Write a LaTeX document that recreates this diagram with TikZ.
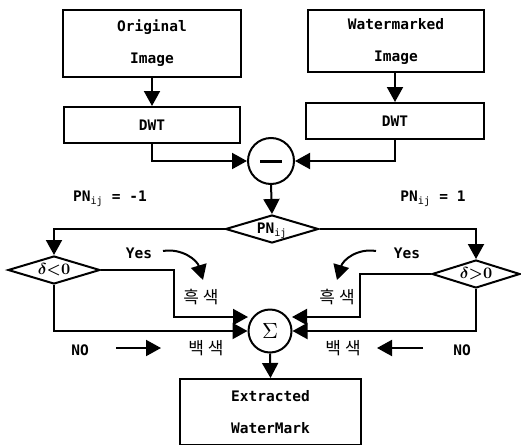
\documentclass[tikz,border=0pt]{standalone}
\usepackage{fontspec}
\setmonofont{DejaVu Sans Mono}
\newfontfamily\kr{Noto Sans CJK KR}
\usetikzlibrary{shapes.geometric,arrows.meta,calc}
\begin{document}
\begin{tikzpicture}[x=1pt,y=-1pt,
  lw/.style={line width=2pt},
  box/.style={draw, lw, inner sep=0pt, align=center, font=\ttfamily\bfseries\fontsize{14.5}{17}\selectfont},
  arr/.style={lw, -{Triangle[length=15pt,width=16pt]}},
  dia/.style={draw, lw, shape=diamond, inner sep=0pt, aspect=3.3},
  circ/.style={draw, lw, circle, inner sep=0pt},
  lab/.style={font=\ttfamily\bfseries\fontsize{14.5}{17}\selectfont, inner sep=0pt},
  krl/.style={font=\kr\fontsize{17}{19}\selectfont, inner sep=0pt}]
\useasboundingbox (0,0) rectangle (521,444);
\fill[white] (0,0) rectangle (521,444);
% boxes
\node[box, minimum width=178pt, minimum height=67pt] (orig) at (152,43.5) {Original\\[15pt]Image};
\node[box, minimum width=176pt, minimum height=62pt] (wm) at (396,41) {Watermarked\\[15pt]Image};
\node[box, minimum width=176pt, minimum height=36pt] (dwt1) at (152,125) {DWT};
\node[box, minimum width=178pt, minimum height=36pt] (dwt2) at (395,121) {DWT};
\node[circ, minimum size=46pt] (minus) at (271,161) {};
\draw[line width=3pt] ($(minus.center)+(-11,0)$) coordinate (m1) -- ($(minus.center)+(11,0)$) coordinate (m2);
\node[dia, minimum width=93pt, minimum height=28pt] (pn) at (272,229) {};
\node[lab] (pnt) at (272,231) {PN$_{\mathtt{ij}}$};
\node[dia, minimum width=92pt, minimum height=28pt] (ldia) at (54,270) {};
\node[inner sep=0pt] (ldt) at (54,270) {\scalebox{1.6}{\boldmath$\delta{<}0$}};
\node[dia, minimum width=88pt, minimum height=28pt] (rdia) at (476,274) {};
\node[inner sep=0pt] (rdt) at (476,274) {\scalebox{1.6}{\boldmath$\delta{>}0$}};
\node[circ, minimum size=43pt] (sig) at (270,331) {\scalebox{2.2}{$\Sigma$}};
\node[box, minimum width=181pt, minimum height=66pt] (ext) at (270.5,412) {Extracted\\[15pt]WaterMark};
% labels
\node[lab] (pnl) at (110,199) {PN$_{\mathtt{ij}}$ = -1};
\node[lab] (pnr) at (433,199) {PN$_{\mathtt{ij}}$ = 1};
\node[lab] (yesl) at (139,253) {Yes};
\node[lab] (yesr) at (407,253) {Yes};
\node[krl] (bl) at (201,297) {흑\hspace{4pt}색};
\node[krl] (br) at (337,297) {흑\hspace{4pt}색};
\node[krl] (wl) at (206,348) {백\hspace{4pt}색};
\node[krl] (wr) at (343,348) {백\hspace{4pt}색};
\node[lab] (nol) at (80,350) {NO};
\node[lab] (nor) at (462,350) {NO};
% connectors
\draw[arr] (orig.south) -- (dwt1.north);
\draw[arr] (wm.south -| dwt2.north) -- (dwt2.north);
\draw[arr] (dwt1.south) |- (minus.west);
\draw[arr] (dwt2.south) |- (minus.east);
\draw[arr] (minus.south) -- (pn.north);
\draw[arr] (pn.west) -| (ldia.north);
\draw[arr] (pn.east) -| (rdia.north);
\coordinate (lk) at (174,300);
\coordinate (rk) at (360,300);
\coordinate (sl) at (248,317);
\coordinate (sr) at (292,317);
\draw[arr] (ldia.east) -| (lk) |- (sl);
\draw[arr] (rdia.west) -| (rk) |- (sr);
\draw[arr] (ldia.south) |- (sig.west);
\draw[arr] (rdia.south) |- (sig.east);
\draw[arr] (sig.south) -- (ext.north);
% yes curves
\coordinate (ya1) at (163,251);
\coordinate (ya2) at (203,280);
\coordinate (yb1) at (376,251);
\coordinate (yb2) at (337,280);
\draw[arr] (ya1) .. controls (182,248) and (197,260) .. (ya2);
\draw[arr] (yb1) .. controls (357,248) and (343,260) .. (yb2);
% NO arrows
\coordinate (na1) at (116,348);
\coordinate (na2) at (161,348);
\coordinate (nb1) at (423,348);
\coordinate (nb2) at (377,348);
\draw[arr] (na1) -- (na2);
\draw[arr] (nb1) -- (nb2);
\end{tikzpicture}
\end{document}
